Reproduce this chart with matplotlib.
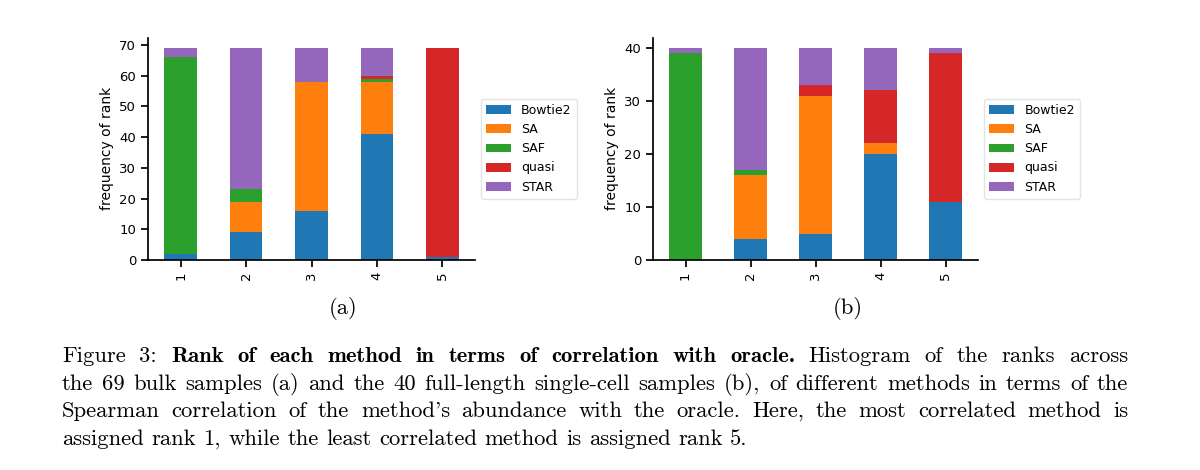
import matplotlib
matplotlib.use("Agg")
import matplotlib.pyplot as plt
import numpy as np

# rank histograms (rows: rank 1..5)
ranks = ['1', '2', '3', '4', '5']
methods = ['Bowtie2', 'SA', 'SAF', 'quasi', 'STAR']
colors = ['#1f77b4', '#ff7f0e', '#2ca02c', '#d62728', '#9467bd']

# (a) 69 bulk samples
bulk_bowtie2 = [2, 9, 16, 41, 1]
bulk_sa = [0, 10, 42, 17, 0]
bulk_saf = [64, 4, 0, 1, 0]
bulk_quasi = [0, 0, 0, 1, 68]
bulk_star = [3, 46, 11, 9, 0]

# (b) 40 full-length single-cell samples
sc_bowtie2 = [0, 4, 5, 20, 11]
sc_sa = [0, 12, 26, 2, 0]
sc_saf = [39, 1, 0, 0, 0]
sc_quasi = [0, 0, 2, 10, 28]
sc_star = [1, 23, 7, 8, 1]

caption_lines = [
    "Figure 3: Rank of each method in terms of correlation with oracle. Histogram of the ranks across",
    "the 69 bulk samples (a) and the 40 full-length single-cell samples (b), of different methods in terms of the",
    "Spearman correlation of the method's abundance with the oracle.  Here, the most correlated method is",
    "assigned rank 1, while the least correlated method is assigned rank 5.",
]
bold_words = (2, 12)  # words 2..11 of the first line are bold

W, H = 1200, 470
fig = plt.figure(figsize=(W / 100, H / 100), dpi=100)


def stacked(ax, series):
    x = np.arange(len(ranks))
    bottom = np.zeros(len(ranks))
    for vals, name, c in zip(series, methods, colors):
        vals = np.array(vals, dtype=float)
        ax.bar(x, vals, 0.5, bottom=bottom, color=c, label=name, linewidth=0)
        bottom += vals
    ax.set_xticks(x)
    ax.set_xticklabels(ranks, rotation=90, fontsize=9)
    ax.set_xlim(-0.5, len(ranks) - 0.5)
    ax.set_ylim(0, bottom.max() * 1.05)
    ax.set_ylabel('frequency of rank', fontsize=10)
    ax.tick_params(axis='both', labelsize=9.5, length=5, width=1.25, direction='out')
    for s in ['top', 'right']:
        ax.spines[s].set_visible(False)
    for s in ['left', 'bottom']:
        ax.spines[s].set_linewidth(1.25)
    ax.legend(loc='center left', bbox_to_anchor=(1.0, 0.5), fontsize=9,
              borderaxespad=0.5, frameon=True, edgecolor='#dddddd')


ax1 = fig.add_axes([148 / W, 1 - 260 / H, 327 / W, 222.5 / H])
stacked(ax1, [bulk_bowtie2, bulk_sa, bulk_saf, bulk_quasi, bulk_star])
ax1.set_yticks(range(0, 71, 10))

ax2 = fig.add_axes([653 / W, 1 - 260 / H, 325 / W, 222.5 / H])
stacked(ax2, [sc_bowtie2, sc_sa, sc_saf, sc_quasi, sc_star])
ax2.set_yticks(range(0, 41, 10))

# caption, justified word by word
renderer = fig.canvas.get_renderer()
x_left, x_right, last_right = 62, 1128, 751
baselines = [362, 390, 417, 445]

# pick the caption size so the short last line ends where it does in the figure
probe = [fig.text(0, 0, w, family='cmr10', fontsize=10) for w in caption_lines[-1].split()]
probe_w = sum(t.get_window_extent(renderer).width for t in probe)
for t in probe:
    t.remove()
n_gaps = len(caption_lines[-1].split()) - 1
# width = probe_w * k + n_gaps * 0.333 * em, em = 10pt * k in px
k = (last_right - x_left) / (probe_w + n_gaps * 0.333 * 10 / 72 * 100)
fsize = 10 * k
space = 0.333 * fsize / 72 * 100

for i, (line, yb) in enumerate(zip(caption_lines, baselines)):
    words = line.split()
    texts = []
    for j, w in enumerate(words):
        fam = 'cmb10' if (i == 0 and bold_words[0] <= j < bold_words[1]) else 'cmr10'
        t = fig.text(0, 1 - yb / H, w, family=fam, fontsize=fsize, va='baseline', ha='left')
        texts.append(t)
    widths = [t.get_window_extent(renderer).width for t in texts]
    if i < len(caption_lines) - 1:
        gap = (x_right - x_left - sum(widths)) / (len(words) - 1)
    else:
        gap = space
    x = x_left
    for t, w in zip(texts, widths):
        t.set_x(x / W)
        x += w + gap

fig.text(343 / W, 1 - 309 / H, '(a)', family='cmr10', fontsize=fsize, ha='center', va='center')
fig.text(848 / W, 1 - 309 / H, '(b)', family='cmr10', fontsize=fsize, ha='center', va='center')

fig.savefig('out.png', dpi=100, facecolor='white')
